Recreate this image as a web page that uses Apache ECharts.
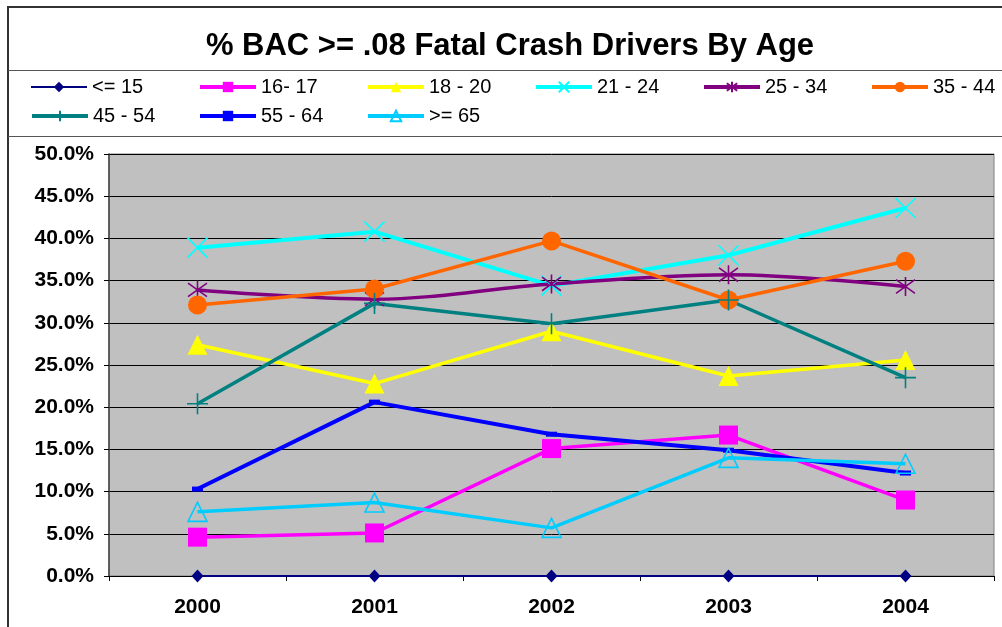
<!DOCTYPE html>
<html>
<head>
<meta charset="utf-8">
<title>% BAC >= .08 Fatal Crash Drivers By Age</title>
<script src="https://cdn.jsdelivr.net/npm/echarts@6/dist/echarts.min.js"></script>
<style>
  html, body { margin: 0; padding: 0; background: #fff; }
  #main { width: 1002px; height: 627px; }
</style>
</head>
<body>
<div id="main"></div>
<script>
// 数据
var years = ['2000', '2001', '2002', '2003', '2004'];
var ageGroups = ['<= 15', '16- 17', '18 - 20', '21 - 24', '25 - 34', '35 - 44', '45 - 54', '55 - 64', '>= 65'];
var age15 = [0, 0, 0, 0, 0];
var age16_17 = [4.6, 5.1, 15.1, 16.7, 9.0];
var age18_20 = [27.4, 22.8, 29.0, 23.7, 25.6];
var age21_24 = [38.9, 40.8, 34.4, 38.0, 43.6];
var age25_34 = [33.9, 32.8, 34.6, 35.7, 34.3];
var age35_44 = [32.1, 34.0, 39.7, 32.7, 37.3];
var age45_54 = [20.4, 32.3, 29.9, 32.7, 23.5];
var age55_64 = [10.3, 20.6, 16.8, 14.9, 12.2];
var age65 = [7.6, 8.7, 5.7, 14.0, 13.3];
var yMin = 0, yMax = 50, yStep = 5;

(function () {
    var font = '"Liberation Sans", Arial, sans-serif';
    var allData = [age15, age16_17, age18_20, age21_24, age25_34, age35_44, age45_54, age55_64, age65];
    var colors = ['#000080', '#FF00FF', '#FFFF00', '#00FFFF', '#800080', '#FF6600', '#008080', '#0000FF', '#00CCFF'];
    var lineWidths = [2, 3.5, 3.5, 4, 3.5, 3.5, 3.5, 4, 3.5];
    // 标记样式
    var pathX = 'path://M0,0L10,10M10,0L0,10';
    var pathStar = 'path://M0,0L10,10M10,0L0,10M5,-2L5,12';
    var pathPlus = 'path://M0,5L10,5M5,0L5,10';
    var pathTri = 'path://M5,0L10,10L0,10Z';
    var marks = [
        { symbol: 'diamond', size: [12, 13], hollow: false },
        { symbol: 'rect', size: 19, hollow: false },
        { symbol: 'triangle', size: 20, hollow: false },
        { symbol: pathX, size: 20, hollow: true },
        { symbol: pathStar, size: 19, hollow: true },
        { symbol: 'circle', size: 19, hollow: false },
        { symbol: pathPlus, size: 21, hollow: true },
        { symbol: 'rect', size: [11, 5], hollow: false },
        { symbol: pathTri, size: 19, hollow: true }
    ];

    var series = ageGroups.map(function (name, i) {
        var m = marks[i];
        return {
            name: name,
            type: 'line',
            data: allData[i],
            symbol: m.symbol,
            symbolSize: m.size,
            smooth: i === 4 ? 0.35 : false,
            lineStyle: { color: colors[i], width: lineWidths[i] },
            itemStyle: m.hollow
                ? { color: 'transparent', borderColor: colors[i], borderWidth: 1.6 }
                : { color: colors[i], borderWidth: 0 },
            emphasis: { disabled: true },
            animation: false
        };
    });

    // 图例 每个单独定位
    var legends = ageGroups.map(function (name, i) {
        return {
            data: [name],
            left: 30 + (i % 6) * 168,
            top: i < 6 ? 77 : 106,
            padding: 0,
            itemWidth: 56,
            itemHeight: 13,
            lineStyle: { width: i === 0 ? 2 : 4 },
            textStyle: { fontFamily: font, fontSize: 20, color: '#000' }
        };
    });

    var myChart = echarts.init(document.querySelector('#main'));
    var option = {
        backgroundColor: '#fff',
        animation: false,
        title: {
            text: '% BAC >= .08 Fatal Crash Drivers By Age',
            left: 510,
            textAlign: 'center',
            top: 31,
            padding: 0,
            textStyle: { fontFamily: font, fontSize: 31, fontWeight: 'bold', color: '#000' }
        },
        legend: legends,
        grid: {
            left: 109,
            right: 8,
            top: 154,
            bottom: 51,
            show: true,
            backgroundColor: '#C0C0C0',
            borderColor: '#808080',
            borderWidth: 1
        },
        xAxis: {
            type: 'category',
            data: years,
            boundaryGap: true,
            axisLine: { lineStyle: { color: '#000', width: 1 } },
            axisTick: { show: true, length: 5, lineStyle: { color: '#000' } },
            axisLabel: { margin: 21, fontFamily: font, fontSize: 21, fontWeight: 'bold', color: '#000' },
            splitLine: { show: false }
        },
        yAxis: {
            type: 'value',
            min: yMin,
            max: yMax,
            interval: yStep,
            axisLine: { show: true, lineStyle: { color: '#404040', width: 1.5 } },
            axisTick: { show: true, length: 5, lineStyle: { color: '#000' } },
            axisLabel: {
                margin: 15,
                fontFamily: font,
                fontSize: 21,
                fontWeight: 'bold',
                color: '#000',
                formatter: function (v) { return v.toFixed(1) + '%'; }
            },
            splitLine: { show: true, lineStyle: { color: '#000', width: 1 } }
        },
        graphic: [
            { type: 'polyline', shape: { points: [[8, 627], [8, 7], [1002, 7]] }, style: { stroke: '#333', lineWidth: 2, fill: 'none' }, silent: true },
            { type: 'line', shape: { x1: 8, y1: 70.5, x2: 1002, y2: 70.5 }, style: { stroke: '#555', lineWidth: 1 }, silent: true },
            { type: 'line', shape: { x1: 8, y1: 136.5, x2: 1002, y2: 136.5 }, style: { stroke: '#555', lineWidth: 1 }, silent: true }
        ],
        series: series
    };
    myChart.setOption(option);
    window.addEventListener('resize', function () {
        myChart.resize();
    });
})();
</script>
</body>
</html>
